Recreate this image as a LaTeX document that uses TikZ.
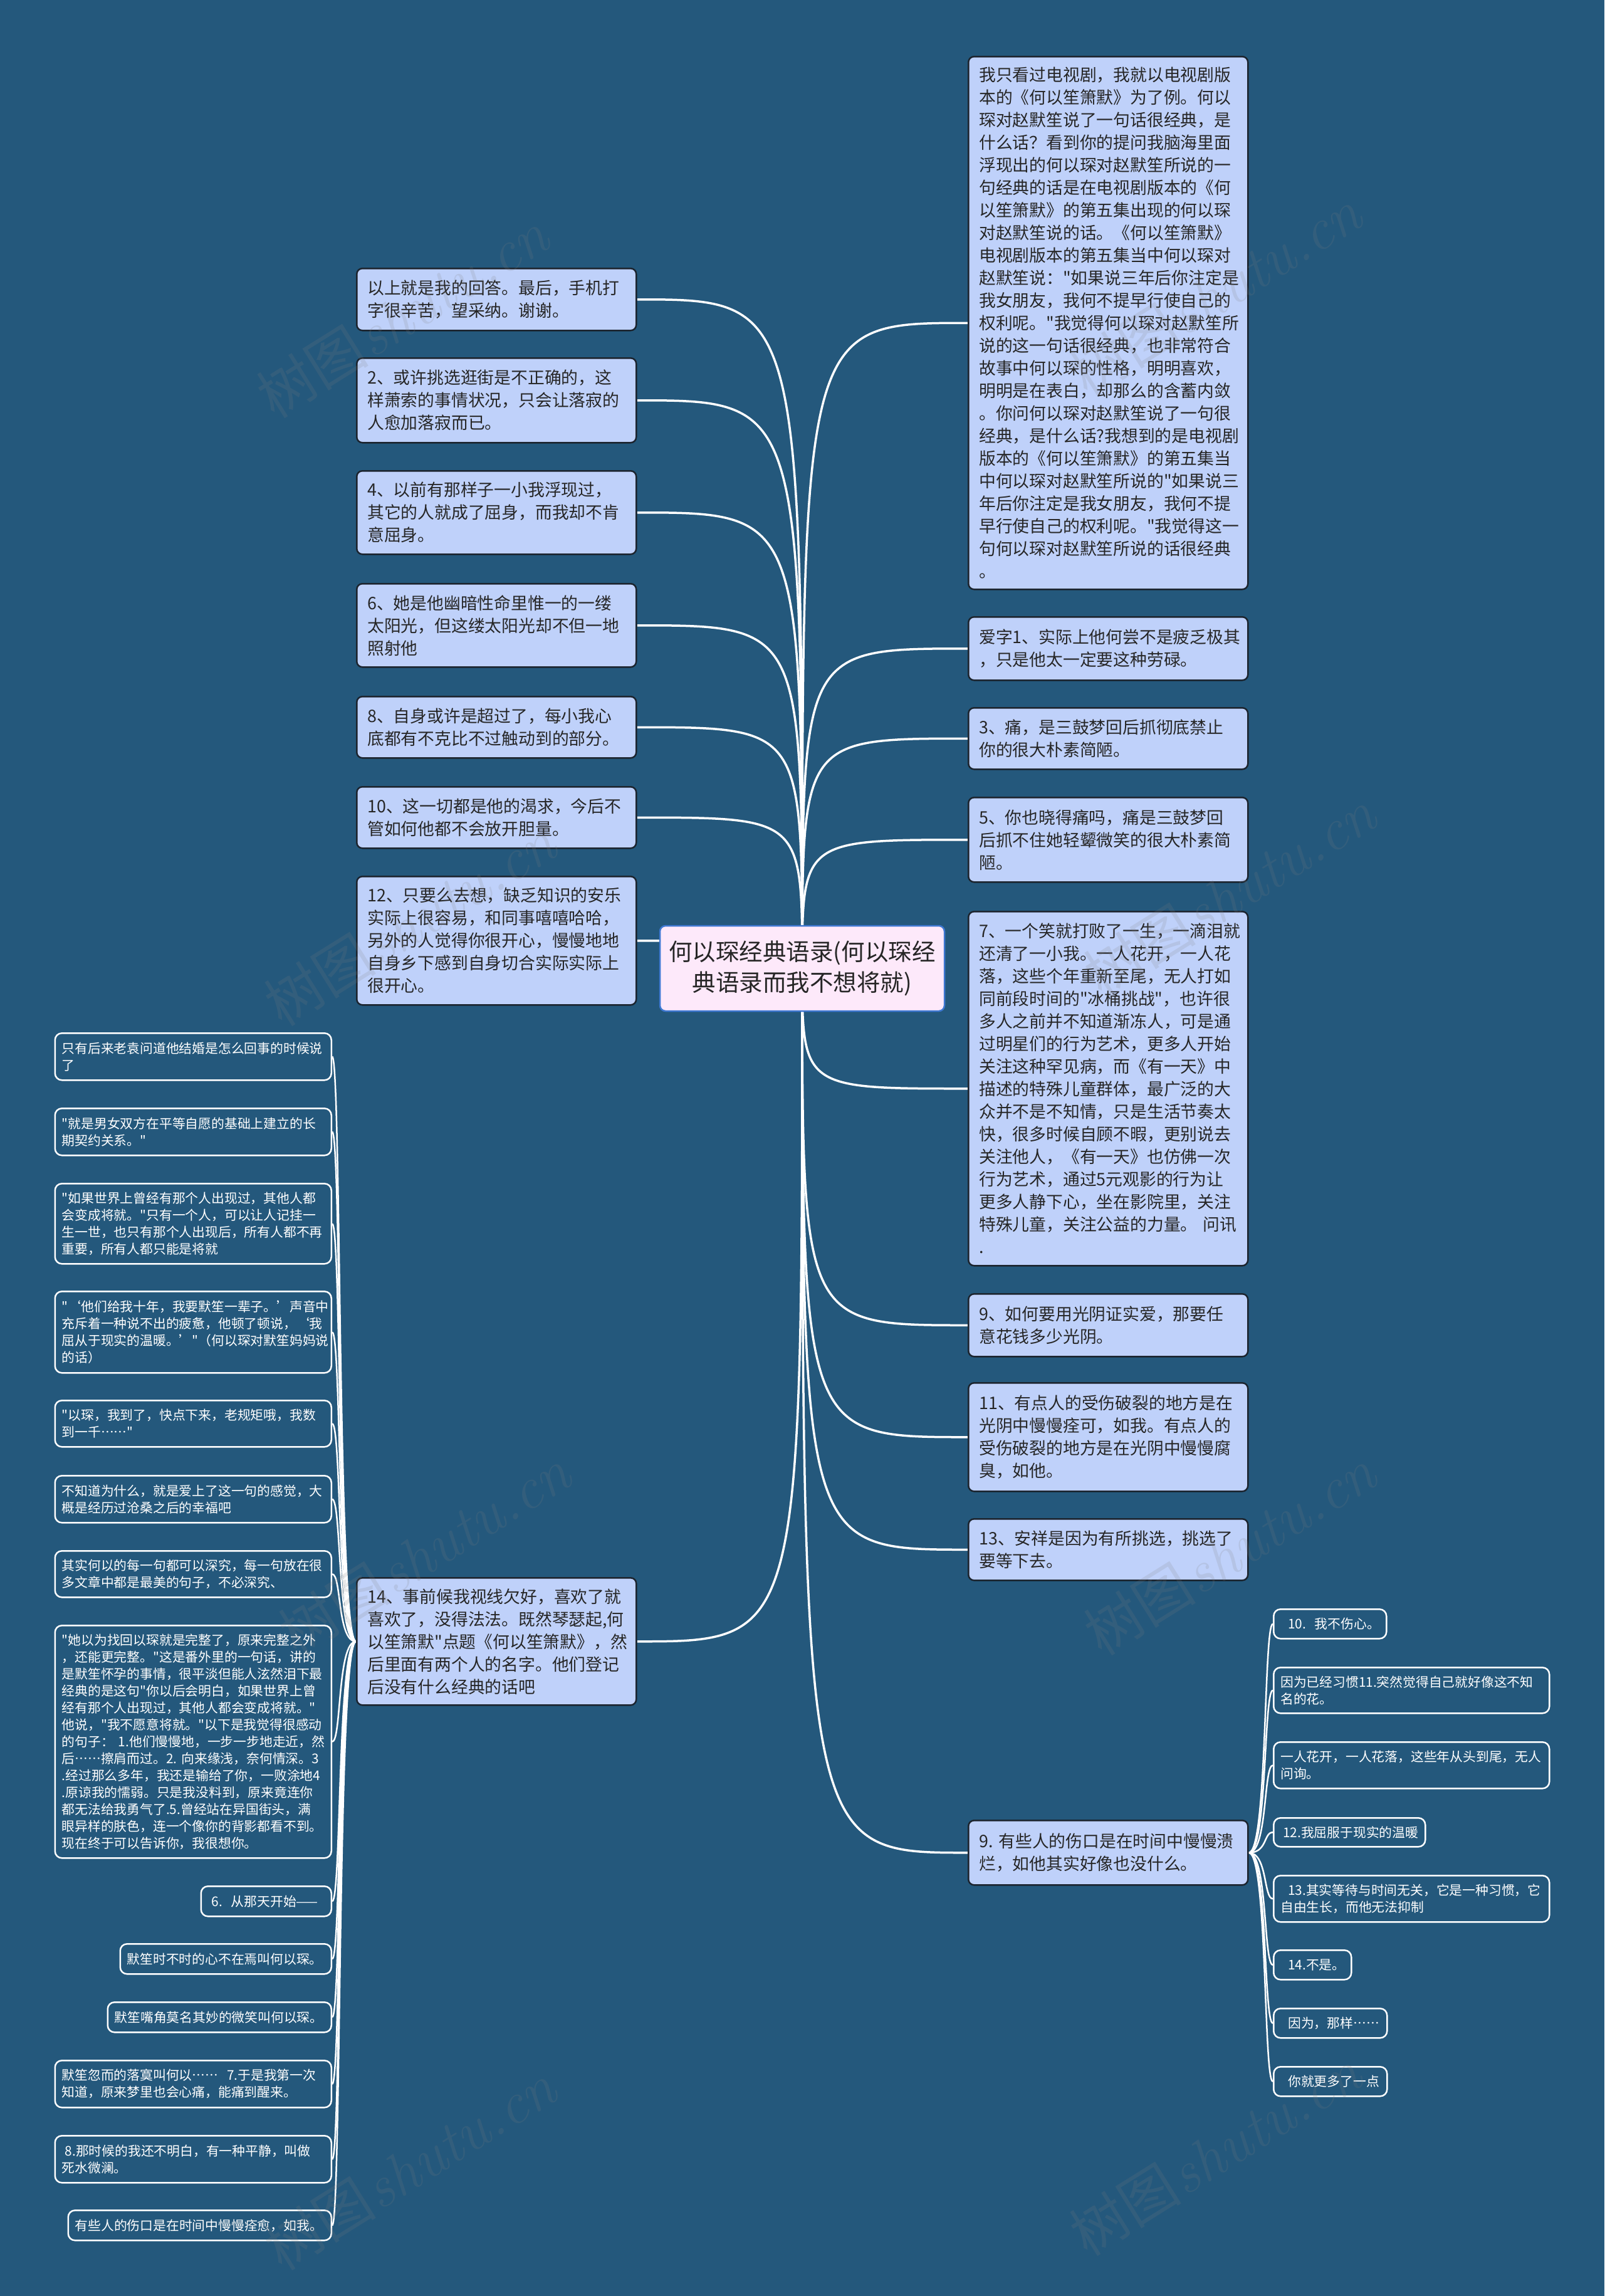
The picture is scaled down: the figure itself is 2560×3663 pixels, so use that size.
\documentclass[tikz,border=0pt]{standalone}
\usetikzlibrary{calc}
\font\fmain="Noto Sans CJK SC" at 26.8pt
\font\froot="Noto Sans CJK SC" at 37.5pt
\font\fleaf="Noto Sans CJK SC" at 20.8pt
\font\fwmc="Noto Sans CJK SC" at 90pt
\newcommand\fmainsel{\fmain\baselineskip=36pt\relax}
\newcommand\frootsel{\froot\baselineskip=49pt\relax}
\newcommand\fleafsel{\fleaf\baselineskip=27pt\relax}
\definecolor{bgc}{RGB}{36,88,124}
\definecolor{boxfill}{RGB}{191,209,250}
\definecolor{boxline}{RGB}{28,36,46}
\definecolor{boxtext}{RGB}{38,38,38}
\definecolor{rootfill}{RGB}{253,233,250}
\definecolor{rootline}{RGB}{62,120,210}
\pgfdeclarelayer{back}
\pgfdeclarelayer{lines}
\pgfdeclarelayer{front}
\pgfsetlayers{back,lines,main,front}
\tikzset{
  mbox/.style={draw=boxline, fill=boxfill, line width=2.5pt, rounded corners=9pt, text=boxtext, font=\fmainsel, align=left, text width=412pt, inner xsep=17pt, inner ysep=0pt, anchor=north west},
  rootbox/.style={draw=rootline, fill=rootfill, line width=2.5pt, rounded corners=9pt, text=boxtext, font=\frootsel, align=center, minimum width=454pt, minimum height=136pt, inner sep=0pt},
  lbox/.style={draw=white, fill=bgc, line width=2.5pt, rounded corners=11pt, text=white, font=\fleafsel, align=left, inner xsep=11pt, inner ysep=0pt},
  lleft/.style={lbox, anchor=north east},
  lright/.style={lbox, anchor=north west},
  conn/.style={draw=white, line width=3.5pt},
  lconn/.style={draw=white, line width=2.5pt},
  wm/.style={text=gray, text opacity=0.17, inner sep=0pt, rotate=32}
}
\begin{document}
\begin{tikzpicture}[x=1pt,y=-1pt]
\useasboundingbox (0,0) rectangle (2560,3663);
\begin{pgfonlayer}{back}
\fill[bgc] (0,0) rectangle (2560,3663);
\end{pgfonlayer}

% root
\node[rootbox] (root) at (1280,1545) {何以琛经典语录(何以琛经\\典语录而我不想将就)};

% left main boxes
\node[mbox, minimum height=99pt] (L1) at (568,427) {以上就是我的回答。最后，手机打\\字很辛苦，望采纳。谢谢。};
\node[mbox, minimum height=135pt] (L2) at (568,570) {2、或许挑选逛街是不正确的，这\\样萧索的事情状况，只会让落寂的\\人愈加落寂而已。};
\node[mbox, minimum height=133pt] (L3) at (568,750) {4、以前有那样子一小我浮现过，\\其它的人就成了屈身，而我却不肯\\意屈身。};
\node[mbox, minimum height=133pt] (L4) at (568,930) {6、她是他幽暗性命里惟一的一缕\\太阳光，但这缕太阳光却不但一地\\照射他};
\node[mbox, minimum height=98pt] (L5) at (568,1110) {8、自身或许是超过了，每小我心\\底都有不克比不过触动到的部分。};
\node[mbox, minimum height=98pt] (L6) at (568,1254) {10、这一切都是他的渴求，今后不\\管如何他都不会放开胆量。};
\node[mbox, minimum height=205pt] (L7) at (568,1397) {12、只要么去想，缺乏知识的安乐\\实际上很容易，和同事嘻嘻哈哈，\\另外的人觉得你很开心，慢慢地地\\自身乡下感到自身切合实际实际上\\很开心。};
\node[mbox, minimum height=203pt] (L8) at (568,2516) {14、事前候我视线欠好，喜欢了就\\喜欢了，没得法法。既然琴瑟起,何\\以笙箫默"点题《何以笙箫默》，然\\后里面有两个人的名字。他们登记\\后没有什么经典的话吧};

% right main boxes
\node[mbox, minimum height=850pt] (R1) at (1544,89) {我只看过电视剧，我就以电视剧版\\本的《何以笙箫默》为了例。何以\\琛对赵默笙说了一句话很经典，是\\什么话？看到你的提问我脑海里面\\浮现出的何以琛对赵默笙所说的一\\句经典的话是在电视剧版本的《何\\以笙箫默》的第五集出现的何以琛\\对赵默笙说的话。《何以笙箫默》\\电视剧版本的第五集当中何以琛对\\赵默笙说："如果说三年后你注定是\\我女朋友，我何不提早行使自己的\\权利呢。"我觉得何以琛对赵默笙所\\说的这一句话很经典，也非常符合\\故事中何以琛的性格，明明喜欢，\\明明是在表白，却那么的含蓄内敛\\。你问何以琛对赵默笙说了一句很\\经典，是什么话?我想到的是电视剧\\版本的《何以笙箫默》的第五集当\\中何以琛对赵默笙所说的"如果说三\\年后你注定是我女朋友，我何不提\\早行使自己的权利呢。"我觉得这一\\句何以琛对赵默笙所说的话很经典\\。};
\node[mbox, minimum height=101pt] (R2) at (1544,983) {爱字1、实际上他何尝不是疲乏极其\\，只是他太一定要这种劳碌。};
\node[mbox, minimum height=98pt] (R3) at (1544,1128) {3、痛，是三鼓梦回后抓彻底禁止\\你的很大朴素简陋。};
\node[mbox, minimum height=135pt] (R4) at (1544,1271) {5、你也晓得痛吗，痛是三鼓梦回\\后抓不住她轻颦微笑的很大朴素简\\陋。};
\node[mbox, minimum height=565pt] (R5) at (1544,1453) {7、一个笑就打败了一生，一滴泪就\\还清了一小我。一人花开，一人花\\落，这些个年重新至尾，无人打如\\同前段时间的"冰桶挑战"，也许很\\多人之前并不知道渐冻人，可是通\\过明星们的行为艺术，更多人开始\\关注这种罕见病，而《有一天》中\\描述的特殊儿童群体，最广泛的大\\众并不是不知情，只是生活节奏太\\快，很多时候自顾不暇，更别说去\\关注他人，《有一天》也仿佛一次\\行为艺术，通过5元观影的行为让\\更多人静下心，坐在影院里，关注\\特殊儿童，关注公益的力量。~问讯\\.};
\node[mbox, minimum height=100pt] (R6) at (1544,2063) {9、如何要用光阴证实爱，那要任\\意花钱多少光阴。};
\node[mbox, minimum height=173pt] (R7) at (1544,2205) {11、有点人的受伤破裂的地方是在\\光阴中慢慢痊可，如我。有点人的\\受伤破裂的地方是在光阴中慢慢腐\\臭，如他。};
\node[mbox, minimum height=98pt] (R8) at (1544,2422) {13、安祥是因为有所挑选，挑选了\\要等下去。};
\node[mbox, minimum height=103pt] (R9) at (1544,2903) {9.~有些人的伤口是在时间中慢慢溃\\烂，如他其实好像也没什么。};

% left leaves
\node[lleft, text width=419pt, minimum height=75pt] (LL1) at (530,1647) {只有后来老袁问道他结婚是怎么回事的时候说\\了};
\node[lleft, text width=419pt, minimum height=75pt] (LL2) at (530,1767) {"就是男女双方在平等自愿的基础上建立的长\\期契约关系。"};
\node[lleft, text width=419pt, minimum height=128pt] (LL3) at (530,1887) {"如果世界上曾经有那个人出现过，其他人都\\会变成将就。"只有一个人，可以让人记挂一\\生一世，也只有那个人出现后，所有人都不再\\重要，所有人都只能是将就};
\node[lleft, text width=419pt, minimum height=130pt] (LL4) at (530,2059) {"‘他们给我十年，我要默笙一辈子。’声音中\\充斥着一种说不出的疲惫，他顿了顿说，‘我\\屈从于现实的温暖。’"（何以琛对默笙妈妈说\\的话）};
\node[lleft, text width=419pt, minimum height=74pt] (LL5) at (530,2233) {"以琛，我到了，快点下来，老规矩哦，我数\\到一千……"};
\node[lleft, text width=419pt, minimum height=75pt] (LL6) at (530,2353) {不知道为什么，就是爱上了这一句的感觉，大\\概是经历过沧桑之后的幸福吧};
\node[lleft, text width=419pt, minimum height=74pt] (LL7) at (530,2473) {其实何以的每一句都可以深究，每一句放在很\\多文章中都是最美的句子，不必深究、};
\node[lleft, text width=419pt, minimum height=371pt] (LL8) at (530,2592) {"她以为找回以琛就是完整了，原来完整之外\\，还能更完整。"这是番外里的一句话，讲的\\是默笙怀孕的事情，很平淡但能人泫然泪下最\\经典的是这句"你以后会明白，如果世界上曾\\经有那个人出现过，其他人都会变成将就。"\\他说，"我不愿意将就。"以下是我觉得很感动\\的句子：~1.他们慢慢地，一步一步地走近，然\\后……擦肩而过。2.~向来缘浅，奈何情深。3\\.经过那么多年，我还是输给了你，一败涂地4\\.原谅我的懦弱。只是我没料到，原来竟连你\\都无法给我勇气了.5.曾经站在异国街头，满\\眼异样的肤色，连一个像你的背影都看不到。\\现在终于可以告诉你，我很想你。};
\node[lleft, text width=186pt, minimum height=48pt] (LL9) at (530,3008) {\hspace*{6pt}6.~~从那天开始——};
\node[lleft, text width=315pt, minimum height=48pt] (LL10) at (530,3100) {默笙时不时的心不在焉叫何以琛。};
\node[lleft, text width=335pt, minimum height=48pt] (LL11) at (530,3193) {默笙嘴角莫名其妙的微笑叫何以琛。};
\node[lleft, text width=419pt, minimum height=75pt] (LL12) at (530,3286) {默笙忽而的落寞叫何以……~~7.于是我第一次\\知道，原来梦里也会心痛，能痛到醒来。};
\node[lleft, text width=419pt, minimum height=75pt] (LL13) at (530,3406) {\hspace*{5pt}8.那时候的我还不明白，有一种平静，叫做\\死水微澜。};
\node[lleft, text width=398pt, minimum height=48pt] (LL14) at (530,3525) {有些人的伤口是在时间中慢慢痊愈，如我。};

% right leaves
\node[lright, text width=158pt, minimum height=47pt] (RL1) at (2031,2566) {\hspace*{12pt}10.~~我不伤心。};
\node[lright, text width=418pt, minimum height=73pt] (RL2) at (2031,2659) {因为已经习惯11.突然觉得自己就好像这不知\\名的花。};
\node[lright, text width=418pt, minimum height=74pt] (RL3) at (2031,2778) {一人花开，一人花落，这些年从头到尾，无人\\问询。};
\node[lright, text width=220pt, minimum height=46pt] (RL4) at (2031,2899) {\hspace*{4pt}12.我屈服于现实的温暖};
\node[lright, text width=418pt, minimum height=74pt] (RL5) at (2031,2991) {\hspace*{12pt}13.其实等待与时间无关，它是一种习惯，它\\自由生长，而他无法抑制};
\node[lright, text width=102pt, minimum height=47pt] (RL6) at (2031,3110) {\hspace*{12pt}14.不是。};
\node[lright, text width=159pt, minimum height=47pt] (RL7) at (2031,3203) {\hspace*{12pt}因为，那样……};
\node[lright, text width=159pt, minimum height=47pt] (RL8) at (2031,3296) {\hspace*{12pt}你就更多了一点};

% connectors
\begin{pgfonlayer}{lines}
\foreach \c in {L1,L2,L3,L4,L5,L6,L7,L8}
  \draw[conn] (root.center) .. controls (root.center |- \c.east) .. (\c.east);
\foreach \c in {R1,R2,R3,R4,R5,R6,R7,R8,R9}
  \draw[conn] (root.center) .. controls (root.center |- \c.west) .. (\c.west);
\foreach \c in {LL1,LL2,LL3,LL4,LL5,LL6,LL7,LL8,LL9,LL10,LL11,LL12,LL13,LL14}
  \draw[lconn] (L8.west) .. controls +(-30,0) and +(15,0) .. (\c.east);
\foreach \c in {RL1,RL2,RL3,RL4,RL5,RL6,RL7,RL8}
  \draw[lconn] (R9.east) .. controls +(30,0) and +(-15,0) .. (\c.west);
\end{pgfonlayer}

% watermarks
\begin{pgfonlayer}{front}
\node[wm] (wm1) at (642,502) {{\fwmc 树图}~{\fontsize{95}{95}\selectfont\itshape shutu.cn}};
\node[wm] (wm2) at (1939,467) {{\fwmc 树图}~{\fontsize{95}{95}\selectfont\itshape shutu.cn}};
\node[wm] (wm3) at (654,1472) {{\fwmc 树图}~{\fontsize{95}{95}\selectfont\itshape shutu.cn}};
\node[wm] (wm4) at (1962,1425) {{\fwmc 树图}~{\fontsize{95}{95}\selectfont\itshape shutu.cn}};
\node[wm] (wm5) at (677,2476) {{\fwmc 树图}~{\fontsize{95}{95}\selectfont\itshape shutu.cn}};
\node[wm] (wm6) at (1962,2476) {{\fwmc 树图}~{\fontsize{95}{95}\selectfont\itshape shutu.cn}};
\node[wm] (wm7) at (654,3457) {{\fwmc 树图}~{\fontsize{95}{95}\selectfont\itshape shutu.cn}};
\node[wm] (wm8) at (1939,3434) {{\fwmc 树图}~{\fontsize{95}{95}\selectfont\itshape shutu.cn}};
\end{pgfonlayer}
\end{tikzpicture}
\end{document}
